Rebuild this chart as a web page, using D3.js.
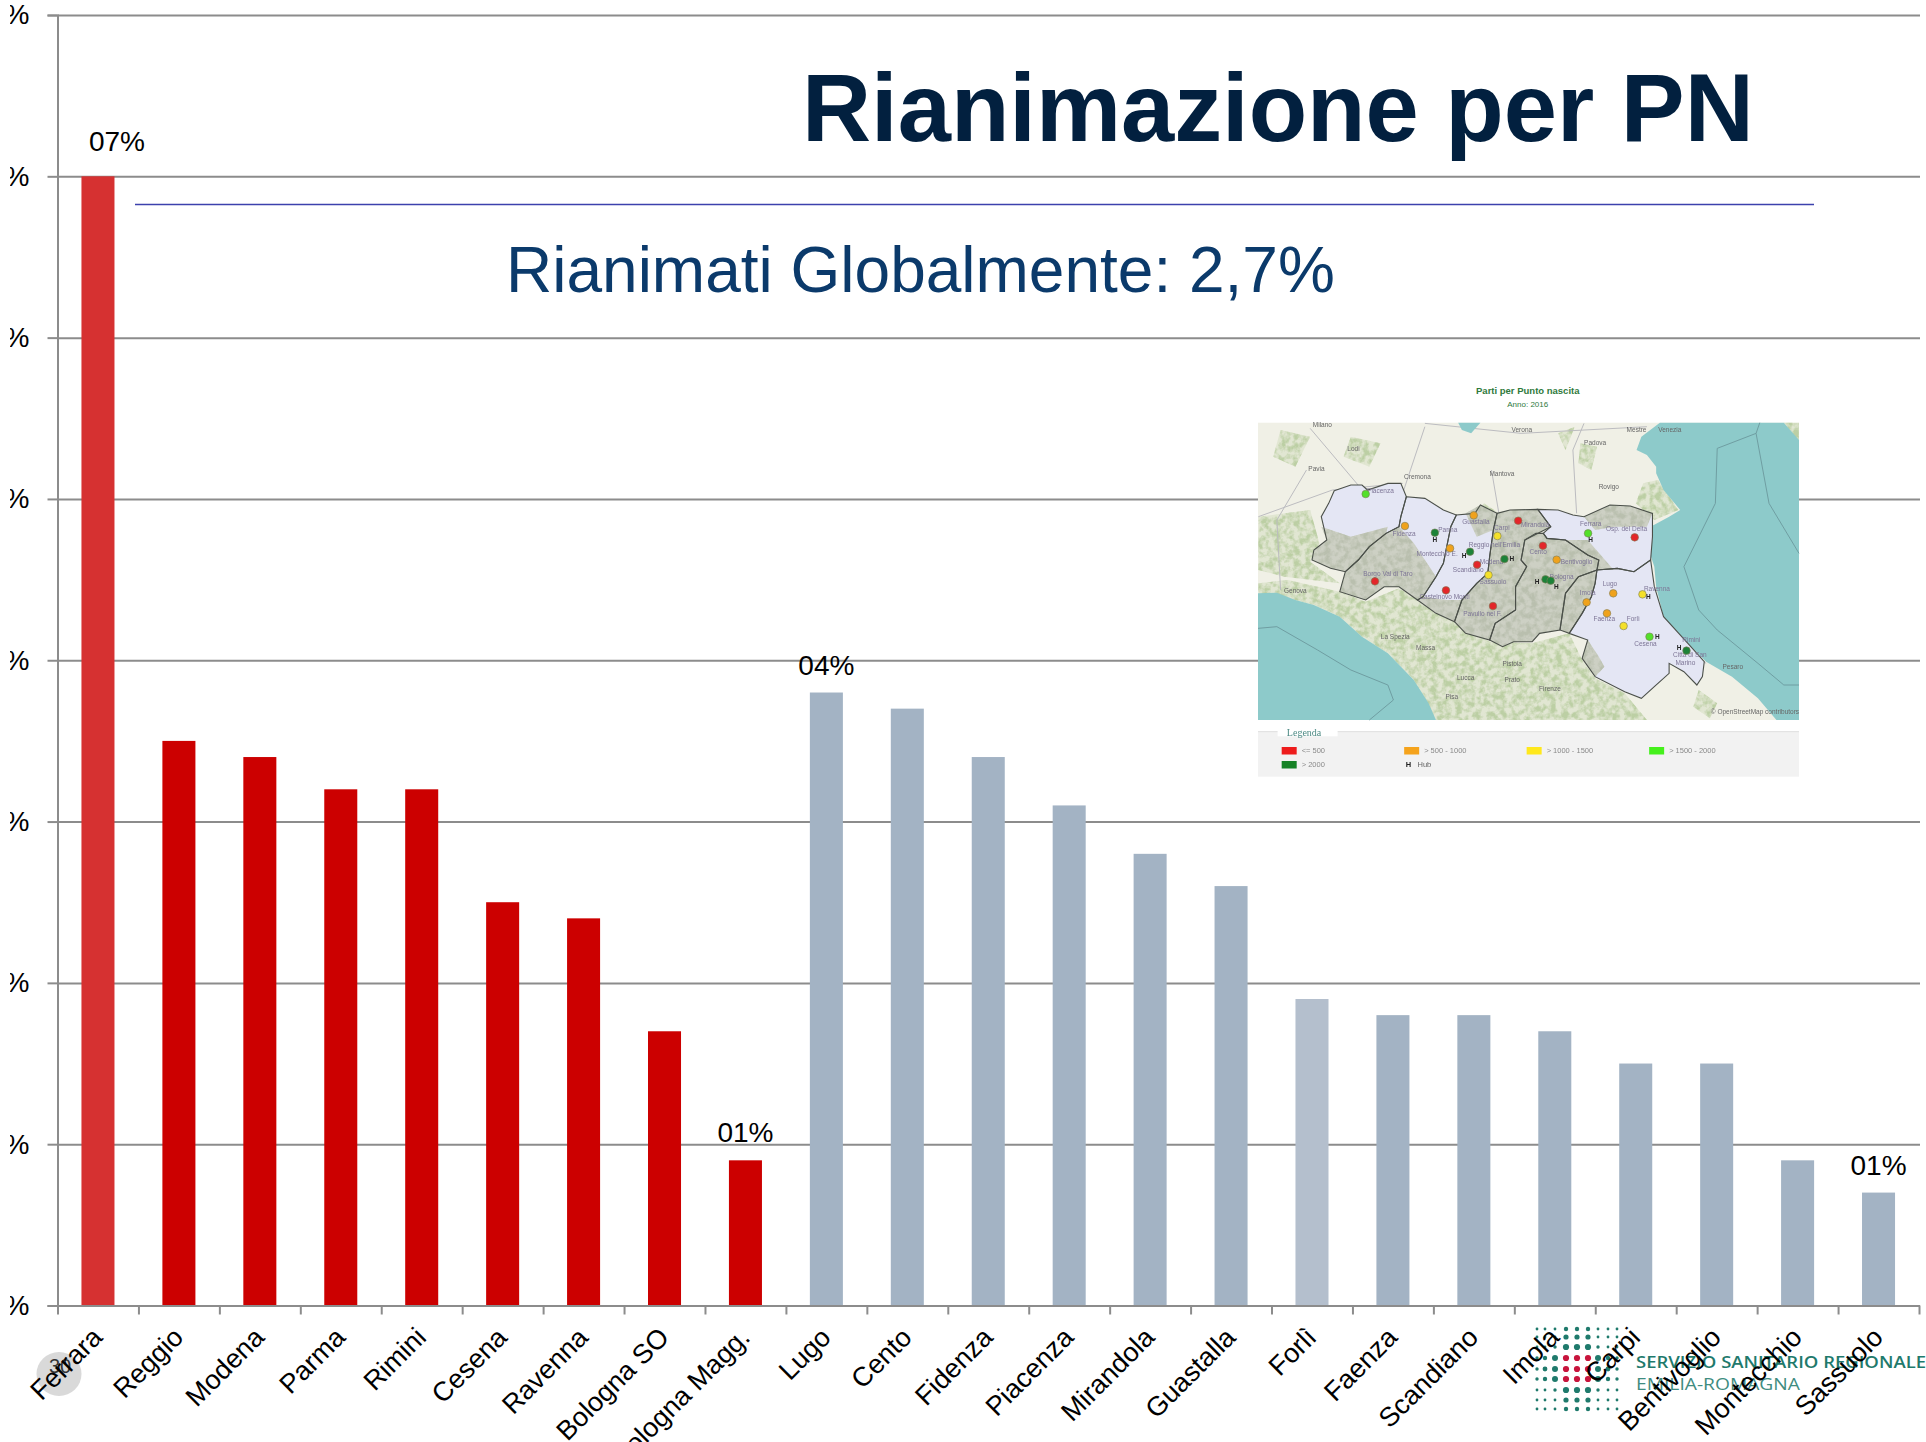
<!DOCTYPE html>
<html>
<head>
<meta charset="utf-8">
<title>Rianimazione per PN</title>
<script src="https://cdnjs.cloudflare.com/ajax/libs/d3/7.8.5/d3.min.js"></script>
<style>
  html, body { margin: 0; padding: 0; background: #fff; overflow: hidden; }
  svg { display: block; font-family: "Liberation Sans", Arial, sans-serif; }
</style>
</head>
<body>
<svg class="js-render-chart" width="1926" height="1442"></svg>
<script>
"use strict";

//chart data

const categories = ["Ferrara", "Reggio", "Modena", "Parma", "Rimini", "Cesena", "Ravenna", "Bologna SO", "Bologna Magg.", "Lugo", "Cento", "Fidenza", "Piacenza", "Mirandola", "Guastalla", "Forlì", "Faenza", "Scandiano", "Imola", "Carpi", "Bentivoglio", "Montecchio", "Sassuolo"];
const values = [7, 3.5, 3.4, 3.2, 3.2, 2.5, 2.4, 1.7, 0.9, 3.8, 3.7, 3.4, 3.1, 2.8, 2.6, 1.9, 1.8, 1.8, 1.7, 1.5, 1.5, 0.9, 0.7];
const barColors = ["#d63131", "#cc0000", "#cc0000", "#cc0000", "#cc0000", "#cc0000", "#cc0000", "#cc0000", "#cc0000", "#a3b3c4", "#a3b3c4", "#a3b3c4", "#a3b3c4", "#a3b3c4", "#a3b3c4", "#b4bfcd", "#a3b3c4", "#a3b3c4", "#a3b3c4", "#a3b3c4", "#a3b3c4", "#a3b3c4", "#a3b3c4"];
const yTicks = [0, 1, 2, 3, 4, 5, 6, 7, 8];
const valueLabels = [["Ferrara", "07%"], ["Bologna Magg.", "01%"], ["Lugo", "04%"], ["Sassuolo", "01%"]];

//map inset data, in the inset's own units

const seaLigurian = [[49, 670], [100, 668], [150, 690], [200, 705], [270, 740], [330, 800], [400, 850], [470, 930], [510, 1000], [530, 1050], [49, 1050]];
const seaAdriatic = [[1135, 158], [1085, 200], [1072, 240], [1100, 255], [1125, 290], [1125, 310], [1145, 360], [1190, 420], [1160, 440], [1110, 470], [1105, 540], [1120, 590], [1125, 650], [1145, 740], [1215, 825], [1260, 875], [1330, 920], [1400, 985], [1450, 1050], [1511, 1050], [1511, 210], [1470, 158]];
const seaGarda = [[590, 158], [650, 158], [625, 190], [600, 180]];
const seaLines = [
  [[49, 775], [100, 770], [210, 840], [300, 900], [400, 945], [415, 990], [350, 1050]],
  [[1511, 550], [1430, 400], [1395, 190], [1405, 158]],
  [[1395, 190], [1290, 235], [1285, 400], [1200, 590], [1240, 720], [1290, 780], [1400, 880], [1470, 945], [1511, 945]]
];
const greenPatches = [
  [[50, 640], [130, 630], [270, 665], [340, 695], [430, 655], [480, 690], [580, 755], [675, 815], [790, 820], [890, 790], [925, 870], [960, 925], [1040, 970], [1100, 1050], [530, 1050], [470, 930], [400, 850], [330, 800], [270, 740], [200, 705], [150, 690], [50, 670]],
  [[50, 440], [190, 420], [215, 520], [190, 575], [270, 640], [120, 620], [50, 600]],
  [[1090, 340], [1130, 330], [1185, 420], [1120, 450], [1070, 400]],
  [[920, 220], [965, 230], [950, 300], [915, 280]],
  [[860, 190], [905, 170], [880, 240]],
  [[640, 420], [660, 400], [700, 430], [640, 450]],
  [[300, 200], [380, 220], [350, 290], [280, 260]],
  [[110, 180], [190, 200], [150, 290], [90, 260]],
  [[1240, 960], [1290, 1000], [1270, 1045], [1225, 1010]],
  [[1430, 158], [1511, 158], [1511, 215], [1470, 158]]
];
const roads = [
  [[190, 175], [340, 372], [640, 540], [830, 630], [1100, 780], [1215, 845], [1260, 880]],
  [[500, 170], [440, 370], [400, 480], [300, 640]],
  [[180, 300], [100, 450], [110, 660]],
  [[680, 300], [700, 430]],
  [[910, 430], [900, 240], [930, 160]],
  [[50, 440], [250, 360], [440, 340]],
  [[500, 160], [760, 190], [1100, 170]]
];
const regionsLavender = [
  [[255, 362], [300, 345], [330, 345], [345, 360], [400, 340], [435, 340], [450, 380], [435, 440], [430, 470], [395, 490], [350, 530], [320, 570], [285, 605], [245, 595], [195, 570], [200, 540], [235, 510], [220, 440], [240, 400]],
  [[450, 380], [500, 385], [550, 420], [585, 435], [570, 470], [550, 580], [530, 620], [495, 680], [480, 690], [430, 650], [390, 650], [340, 690], [270, 665], [285, 605], [320, 570], [350, 530], [395, 490], [430, 470], [435, 440]],
  [[585, 435], [635, 430], [650, 405], [695, 430], [685, 480], [675, 560], [670, 610], [640, 640], [600, 690], [580, 755], [530, 730], [480, 690], [495, 680], [530, 620], [550, 580], [570, 470]],
  [[805, 418], [860, 420], [900, 435], [930, 440], [1000, 405], [1055, 408], [1115, 430], [1115, 500], [1110, 570], [1065, 605], [1020, 595], [965, 600], [970, 570], [940, 555], [880, 510], [830, 505], [820, 490], [840, 470]],
  [[965, 600], [1020, 595], [1065, 605], [1110, 570], [1120, 650], [1145, 740], [1215, 825], [1255, 875], [1250, 920], [1235, 945], [1200, 905], [1160, 880], [1160, 910], [1120, 950], [1085, 985], [1040, 965], [960, 920], [925, 865], [940, 810], [890, 790], [925, 730], [950, 680], [960, 640]]
];
const regionsGray = [
  [[695, 430], [730, 420], [805, 418], [840, 470], [770, 510], [760, 570], [775, 590], [745, 650], [745, 720], [690, 760], [675, 810], [610, 790], [580, 755], [600, 690], [640, 640], [670, 610], [675, 560], [685, 480]],
  [[770, 510], [800, 490], [820, 490], [830, 505], [880, 510], [940, 555], [970, 570], [965, 600], [915, 620], [880, 670], [865, 780], [810, 790], [790, 815], [740, 815], [710, 830], [675, 810], [690, 760], [745, 720], [745, 650], [775, 590], [760, 570]],
  [[915, 620], [965, 600], [960, 640], [950, 680], [925, 730], [890, 790], [865, 780], [880, 670]]
];
const shades = [
  [[220, 470], [300, 500], [400, 470], [395, 490], [350, 530], [320, 570], [285, 605], [245, 595], [195, 570], [200, 540], [235, 510]],
  [[285, 605], [320, 570], [350, 530], [395, 490], [430, 470], [470, 520], [530, 620], [495, 680], [480, 690], [430, 650], [390, 650], [340, 690], [270, 665]],
  [[480, 690], [495, 680], [560, 690], [600, 690], [580, 755], [530, 730]],
  [[610, 430], [650, 405], [695, 430], [685, 480], [640, 500]],
  [[930, 440], [1000, 405], [1055, 408], [1115, 430], [1100, 470], [1010, 470], [960, 480]],
  [[880, 510], [940, 510], [1010, 600], [965, 600], [970, 570], [940, 555]],
  [[940, 810], [925, 865], [960, 920], [985, 890], [970, 860]]
];
const dotsRed = [[752, 452], [819, 527], [1067, 502], [641, 584], [365, 634], [557, 661], [684, 708]];
const dotsOrange = [[446, 468], [632, 436], [568, 535], [856, 569], [1009, 670], [937, 697], [992, 730]];
const dotsYellow = [[696, 498], [672, 615], [1088, 673], [1037, 768]];
const dotsLight = [[340, 372], [941, 490], [1107, 800]];
const dotsDark = [[527, 488], [622, 545], [715, 567], [826, 628], [840, 632], [1207, 842]];
const hubs = [[527, 517], [606, 565], [735, 574], [803, 642], [855, 658], [948, 517], [1104, 688], [1128, 806], [1187, 840]];
const cityGray = [["Milano", 223, 171], ["Verona", 762, 186], ["Mestre", 1072, 185], ["Venezia", 1162, 186], ["Lodi", 307, 244], ["Pavia", 207, 304], ["Padova", 960, 225], ["Cremona", 480, 328], ["Mantova", 708, 318], ["Rovigo", 997, 358], ["Genova", 150, 668], ["La Spezia", 420, 807], ["Massa", 502, 841], ["Pistoia", 736, 887], ["Lucca", 610, 929], ["Prato", 736, 936], ["Firenze", 838, 962], ["Pisa", 573, 987], ["Pesaro", 1332, 898], ["© OpenStreetMap contributors", 1392, 1031]];
const cityPurple = [["Piacenza", 380, 370], ["Fidenza", 444, 499], ["Parma", 562, 485], ["Guastalla", 638, 463], ["Carpi", 708, 481], ["Mirandola", 798, 472], ["Reggio nell'Emilia", 688, 532], ["Montecchio E.", 533, 558], ["Modena", 680, 583], ["Scandiano", 617, 605], ["Sassuolo", 684, 642], ["Borgo Val di Taro", 400, 617], ["Castelnovo Monti", 553, 688], ["Pavullo nel F.", 656, 738], ["Cento", 806, 553], ["Bentivoglio", 910, 583], ["Bologna", 870, 628], ["Ferrara", 948, 467], ["Osp. del Delta", 1045, 482], ["Lugo", 1000, 647], ["Imola", 940, 676], ["Faenza", 985, 752], ["Forlì", 1063, 753], ["Ravenna", 1127, 663], ["Cesena", 1096, 827], ["Rimini", 1220, 815], ["Città di San", 1216, 862], ["Marino", 1204, 885]];
const legendItems = [["<= 500", "#ee1c1c", 113, 1143], ["> 500 - 1000", "#f5a31a", 444, 1143], ["> 1000 - 1500", "#ffe81a", 775, 1143], ["> 1500 - 2000", "#44f01e", 1106, 1143], ["> 2000", "#128228", 113, 1185]];

//logo data

const logoSizes = [
  [1.4, 1.4, 1.4, 2.2, 2.2, 2.2, 1.4, 1.4, 1.4],
  [1.4, 1.4, 1.4, 2.6, 2.6, 2.6, 1.4, 1.4, 1.4],
  [1.4, 1.4, 1.7, 3.1, 3.1, 3.1, 1.7, 1.4, 1.4],
  [1.7, 2.2, 3.0, 3.1, 3.1, 3.1, 3.0, 2.2, 1.7],
  [1.7, 2.4, 3.0, 3.1, 3.1, 3.1, 3.0, 2.4, 1.7],
  [1.7, 2.2, 3.0, 3.1, 3.1, 3.1, 3.0, 2.2, 1.7],
  [1.4, 1.4, 1.7, 3.1, 3.1, 3.1, 1.7, 1.4, 1.4],
  [1.4, 1.4, 1.4, 2.6, 2.6, 2.6, 1.4, 1.4, 1.4],
  [1.4, 1.4, 1.4, 2.2, 2.2, 2.2, 1.4, 1.4, 1.4]
];
const logoX = [1537, 1545, 1555, 1566, 1577, 1588, 1598, 1608, 1617];
const logoY = [1329, 1337, 1347, 1358, 1369, 1379, 1390, 1400, 1409];

//params

const plot = { left: 57.5, right: 1919, top: 15, bottom: 1305.5 };
const font = 28;
const gridColor = "#8c8c8c";

const svg = d3.select(".js-render-chart");

const defs = svg.append("defs");

//cuts the y tick labels where the reference cuts them

defs.append("clipPath")
  .attr("id", "tick-clip")
  .append("rect")
  .attr("x", -47.5)
  .attr("y", -40)
  .attr("width", 50)
  .attr("height", 80);

defs.append("filter")
  .attr("id", "soft")
  .append("feGaussianBlur")
  .attr("stdDeviation", 0.45);

//blotchy look for the green map areas

const mottle = defs.append("filter")
  .attr("id", "mottle")
  .attr("x", 0)
  .attr("y", 0)
  .attr("width", 1)
  .attr("height", 1);

mottle.append("feTurbulence")
  .attr("type", "fractalNoise")
  .attr("baseFrequency", 0.16)
  .attr("numOctaves", 3)
  .attr("seed", 4)
  .attr("result", "noise");

mottle.append("feColorMatrix")
  .attr("in", "noise")
  .attr("type", "matrix")
  .attr("values", "0 0 0 0 0  0 0 0 0 0  0 0 0 0 0  3 0 0 0 -1.1")
  .attr("result", "mask");

mottle.append("feComposite")
  .attr("in", "SourceGraphic")
  .attr("in2", "mask")
  .attr("operator", "in")
  .attr("result", "cut");

mottle.append("feGaussianBlur")
  .attr("in", "cut")
  .attr("stdDeviation", 0.7);

//scales

const x = d3.scaleBand()
  .domain(categories)
  .range([plot.left, plot.right])
  .paddingInner(0.592)
  .paddingOuter(0.296);

const xEdges = d3.scaleLinear()
  .domain([0, categories.length])
  .range([plot.left, plot.right]);

const y = d3.scaleLinear()
  .domain([0, 8])
  .range([plot.bottom, plot.top]);

//grid

svg.append("g")
  .attr("class", "grid")
  .attr("transform", `translate(${plot.left},0)`)
  .call(d3.axisRight(y).tickValues(yTicks).tickSize(plot.right + 1 - plot.left).tickFormat(""))
  .call((g) => g.select(".domain").remove())
  .selectAll("line")
  .attr("stroke", gridColor)
  .attr("stroke-width", 2);

//map inset

const mapX = d3.scaleLinear().domain([49, 1511]).range([1258, 1799]);
const mapY = d3.scaleLinear().domain([158, 1050]).range([422.7, 720]);

const mapLine = d3.line().x((d) => mapX(d[0])).y((d) => mapY(d[1]));
const mapShape = d3.line().x((d) => mapX(d[0])).y((d) => mapY(d[1])).curve(d3.curveLinearClosed);

const inset = svg.append("g").attr("class", "inset");

inset.append("rect")
  .attr("x", mapX(49))
  .attr("y", 378)
  .attr("width", mapX(1511) - mapX(49))
  .attr("height", 400)
  .attr("fill", "#fff");

inset.append("text")
  .attr("x", mapX(778))
  .attr("y", 394)
  .attr("text-anchor", "middle")
  .attr("font-size", 9.5)
  .attr("font-weight", "bold")
  .attr("fill", "#2f7a3c")
  .text("Parti per Punto nascita");

inset.append("text")
  .attr("x", mapX(778))
  .attr("y", 407)
  .attr("text-anchor", "middle")
  .attr("font-size", 8)
  .attr("fill", "#2f7a3c")
  .text("Anno: 2016");

const map = inset.append("g").attr("filter", "url(#soft)");

map.append("rect")
  .attr("x", mapX(49))
  .attr("y", mapY(158))
  .attr("width", mapX(1511) - mapX(49))
  .attr("height", mapY(1050) - mapY(158))
  .attr("fill", "#f0f0e6");

map.append("g")
  .attr("opacity", 0.35)
  .selectAll("path")
  .data(greenPatches)
  .enter()
  .append("path")
  .attr("d", mapShape)
  .attr("fill", "#c6d5ae");

map.append("g")
  .attr("filter", "url(#mottle)")
  .selectAll("path")
  .data(greenPatches)
  .enter()
  .append("path")
  .attr("d", mapShape)
  .attr("fill", "#bccfa4");

map.selectAll(".road")
  .data(roads)
  .enter()
  .append("path")
  .attr("d", mapLine)
  .attr("fill", "none")
  .attr("stroke", "#bcbcc0")
  .attr("stroke-width", 1);

map.selectAll(".sea")
  .data([seaLigurian, seaAdriatic, seaGarda])
  .enter()
  .append("path")
  .attr("d", mapShape)
  .attr("fill", "#8dcaca");

map.selectAll(".sea-line")
  .data(seaLines)
  .enter()
  .append("path")
  .attr("d", mapLine)
  .attr("fill", "none")
  .attr("stroke", "#6f9ea2")
  .attr("stroke-width", 1);

map.selectAll(".region-l")
  .data(regionsLavender)
  .enter()
  .append("path")
  .attr("d", mapShape)
  .attr("fill", "#e4e6f4");

map.selectAll(".region-g")
  .data(regionsGray)
  .enter()
  .append("path")
  .attr("d", mapShape)
  .attr("fill", "#cdd0c4");

map.selectAll(".shade")
  .data(shades)
  .enter()
  .append("path")
  .attr("d", mapShape)
  .attr("fill", "#cdd0c4");

map.append("g")
  .attr("filter", "url(#mottle)")
  .selectAll("path")
  .data(regionsGray.concat(shades))
  .enter()
  .append("path")
  .attr("d", mapShape)
  .attr("fill", "#b9bfae");

map.selectAll(".border")
  .data(regionsLavender.concat(regionsGray))
  .enter()
  .append("path")
  .attr("d", mapShape)
  .attr("fill", "none")
  .attr("stroke", "#4b504a")
  .attr("stroke-width", 1.1);

map.selectAll(".city-g")
  .data(cityGray)
  .enter()
  .append("text")
  .attr("x", (d) => mapX(d[1]))
  .attr("y", (d) => mapY(d[2]))
  .attr("text-anchor", "middle")
  .attr("font-size", 6.5)
  .attr("fill", "#666")
  .text((d) => d[0]);

map.selectAll(".city-p")
  .data(cityPurple)
  .enter()
  .append("text")
  .attr("x", (d) => mapX(d[1]))
  .attr("y", (d) => mapY(d[2]))
  .attr("text-anchor", "middle")
  .attr("font-size", 6.5)
  .attr("fill", "#7d7596")
  .text((d) => d[0]);

[[dotsRed, "#e3262a"], [dotsOrange, "#efa21f"], [dotsYellow, "#f4e02a"], [dotsLight, "#52e02a"], [dotsDark, "#1f8238"]].forEach(([dots, color]) => {

  map.append("g")
    .selectAll("circle")
    .data(dots)
    .enter()
    .append("circle")
    .attr("cx", (d) => mapX(d[0]))
    .attr("cy", (d) => mapY(d[1]))
    .attr("r", 3.8)
    .attr("fill", color)
    .attr("stroke", "#7a7a55")
    .attr("stroke-width", 0.6);

});

map.selectAll(".hub")
  .data(hubs)
  .enter()
  .append("text")
  .attr("x", (d) => mapX(d[0]))
  .attr("y", (d) => mapY(d[1]))
  .attr("text-anchor", "middle")
  .attr("font-size", 6.5)
  .attr("font-weight", "bold")
  .attr("fill", "#222")
  .text("H");

//map legend

const legend = inset.append("g").attr("filter", "url(#soft)");

legend.append("rect")
  .attr("x", mapX(49))
  .attr("y", mapY(1085))
  .attr("width", mapX(1511) - mapX(49))
  .attr("height", 45)
  .attr("fill", "#f2f2f2");

legend.append("line")
  .attr("x1", mapX(49))
  .attr("x2", mapX(1511))
  .attr("y1", mapY(1085))
  .attr("y2", mapY(1085))
  .attr("stroke", "#dedede");

legend.append("rect")
  .attr("x", mapX(102))
  .attr("y", mapY(1075))
  .attr("width", 60)
  .attr("height", 8)
  .attr("fill", "#fff");

legend.append("text")
  .attr("x", mapX(127))
  .attr("y", mapY(1097))
  .attr("font-family", "'Liberation Serif', serif")
  .attr("font-size", 10)
  .attr("fill", "#4d8a84")
  .text("Legenda");

const legendRow = legend.selectAll(".legend-item")
  .data(legendItems)
  .enter()
  .append("g");

legendRow.append("rect")
  .attr("x", (d) => mapX(d[2]))
  .attr("y", (d) => mapY(d[3]) - 4)
  .attr("width", 15)
  .attr("height", 7.5)
  .attr("fill", (d) => d[1]);

legendRow.append("text")
  .attr("x", (d) => mapX(d[2]) + 20)
  .attr("y", (d) => mapY(d[3]) + 2.5)
  .attr("font-size", 7.5)
  .attr("fill", "#8a8a8a")
  .text((d) => d[0]);

legend.append("text")
  .attr("x", mapX(448))
  .attr("y", mapY(1185) + 2.5)
  .attr("font-size", 7.5)
  .attr("font-weight", "bold")
  .attr("fill", "#222")
  .text("H");

legend.append("text")
  .attr("x", mapX(480))
  .attr("y", mapY(1185) + 2.5)
  .attr("font-size", 7.5)
  .attr("fill", "#666")
  .text("Hub");

//blue reference line

svg.append("line")
  .attr("x1", 135)
  .attr("x2", 1814)
  .attr("y1", 204.5)
  .attr("y2", 204.5)
  .attr("stroke", "#3c41ad")
  .attr("stroke-width", 1.3);

//bars

svg.append("g")
  .attr("class", "bars")
  .selectAll("rect")
  .data(categories)
  .enter()
  .append("rect")
  .attr("x", (d) => x(d))
  .attr("y", (d, i) => y(values[i]))
  .attr("width", x.bandwidth())
  .attr("height", (d, i) => y(0) - y(values[i]))
  .attr("fill", (d, i) => barColors[i]);

//axes

const yAxis = svg.append("g")
  .attr("class", "y-axis")
  .attr("transform", `translate(${plot.left},0)`)
  .call(d3.axisLeft(y).tickValues(yTicks).tickSize(10).tickPadding(18).tickFormat((d) => `${d}%`));

yAxis.selectAll("text")
  .attr("clip-path", "url(#tick-clip)")
  .attr("font-family", "'Liberation Sans', Arial, sans-serif")
  .attr("font-size", font)
  .attr("fill", "#000");

const xAxis = svg.append("g")
  .attr("class", "x-axis")
  .attr("transform", `translate(0,${plot.bottom})`)
  .call(d3.axisBottom(xEdges).tickValues(d3.range(categories.length + 1)).tickSize(9).tickSizeOuter(0).tickFormat(""));

svg.selectAll(".y-axis .domain, .y-axis line, .x-axis .domain, .x-axis line")
  .attr("stroke", gridColor)
  .attr("stroke-width", 2);

//slide number

svg.append("ellipse")
  .attr("cx", 59)
  .attr("cy", 1374)
  .attr("rx", 22.5)
  .attr("ry", 22)
  .attr("fill", "#d9d9d9");

svg.append("text")
  .attr("x", 60)
  .attr("y", 1373)
  .attr("text-anchor", "middle")
  .attr("font-size", 20)
  .attr("fill", "#333")
  .text("30");

//logo

const logo = svg.append("g").attr("class", "logo");

logoSizes.forEach((row, r) => {

  logo.append("g")
    .selectAll("circle")
    .data(row)
    .enter()
    .append("circle")
    .attr("cx", (d, c) => logoX[c])
    .attr("cy", logoY[r])
    .attr("r", (d) => d)
    .attr("fill", (d, c) => (r > 2 && r < 6 && c > 2 && c < 6 ? "#c8143c" : "#1f7a6c"));

});

logo.append("text")
  .attr("x", 1636)
  .attr("y", 1368)
  .attr("font-family", "'Open Sans', sans-serif")
  .attr("font-size", 17)
  .attr("font-weight", 600)
  .attr("textLength", 290)
  .attr("lengthAdjust", "spacingAndGlyphs")
  .attr("fill", "#1f7a6c")
  .text("SERVIZIO SANITARIO REGIONALE");

logo.append("text")
  .attr("x", 1636)
  .attr("y", 1390)
  .attr("font-family", "'Open Sans', sans-serif")
  .attr("font-size", 17)
  .attr("textLength", 164)
  .attr("lengthAdjust", "spacingAndGlyphs")
  .attr("fill", "#3f8c80")
  .text("EMILIA-ROMAGNA");

//category labels

svg.append("g")
  .attr("class", "x-labels")
  .selectAll("text")
  .data(categories)
  .enter()
  .append("text")
  .attr("transform", (d) => `translate(${x(d) + x.bandwidth() / 2 + 6},1339) rotate(-45)`)
  .attr("text-anchor", "end")
  .attr("font-size", 27)
  .attr("fill", "#000")
  .text((d) => d);

//value labels

svg.append("g")
  .attr("class", "value-labels")
  .selectAll("text")
  .data(valueLabels)
  .enter()
  .append("text")
  .attr("x", (d) => x(d[0]) + x.bandwidth() / 2 + (d[0] === "Ferrara" ? 19 : 0))
  .attr("y", (d) => y(values[categories.indexOf(d[0])]) - (d[0] === "Ferrara" ? 25 : 18))
  .attr("text-anchor", "middle")
  .attr("font-size", font)
  .attr("fill", "#000")
  .text((d) => d[1]);

//titles

svg.append("text")
  .attr("x", 802)
  .attr("y", 141)
  .attr("font-size", 95.7)
  .attr("font-weight", "bold")
  .attr("fill", "#02203f")
  .text("Rianimazione per PN");

svg.append("text")
  .attr("x", 506)
  .attr("y", 291.5)
  .attr("font-size", 64)
  .attr("fill", "#0b3a6b")
  .text("Rianimati Globalmente: 2,7%");
</script>
</body>
</html>
